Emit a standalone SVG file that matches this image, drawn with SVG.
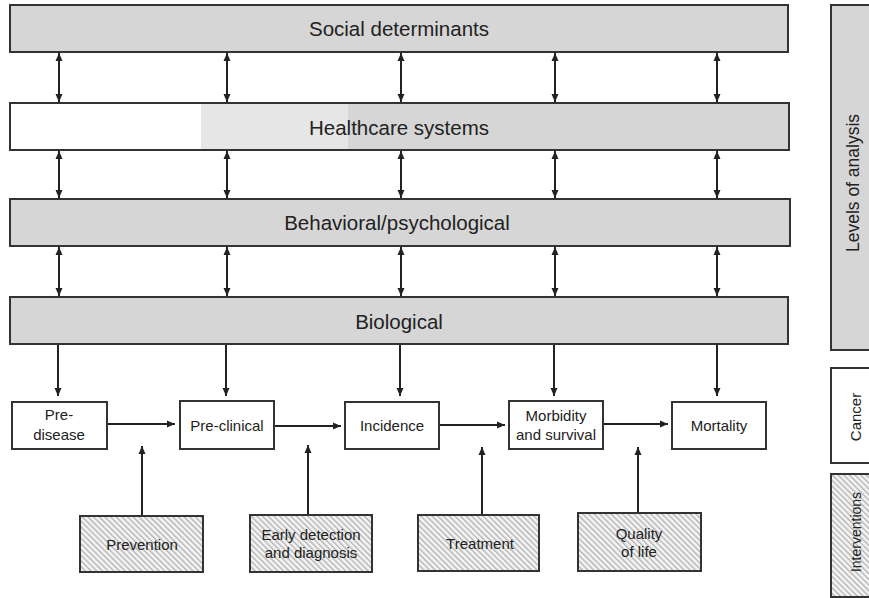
<svg xmlns="http://www.w3.org/2000/svg" width="869" height="598" viewBox="0 0 869 598">
<defs>
<style>
.bar{fill:#d6d6d6;stroke:#333;stroke-width:2}
.box{fill:#fff;stroke:#333;stroke-width:2}
.hatch{fill:url(#hp);stroke:#333;stroke-width:2}
.t{font-family:"Liberation Sans",Arial,sans-serif;fill:#222;text-anchor:middle}
.big{font-size:20.5px}
.sm{font-size:15px}
.conn line{stroke:#222;stroke-width:2;fill:none}
</style>
<pattern id="hp" width="4" height="4" patternUnits="userSpaceOnUse" patternTransform="rotate(-45)">
<rect width="4" height="4" fill="#f4f4f4"/>
<rect width="1.3" height="4" fill="#b0b0b0"/>
</pattern>
<marker id="ah" viewBox="0 0 8 8" markerUnits="userSpaceOnUse" markerWidth="8" markerHeight="8" refX="8" refY="4" orient="auto-start-reverse">
<path d="M0,0.5 L8,4 L0,7.5 z" fill="#222"/>
</marker>
</defs>
<rect width="869" height="598" fill="#fff"/>

<g id="social"><rect class="bar" x="10" y="5" width="778" height="47"/><text class="t big" x="399" y="36">Social determinants</text></g>
<g id="healthcare">
<rect x="10" y="103" width="191" height="47" fill="#fff"/>
<rect x="201" y="103" width="147" height="47" fill="#e6e6e6"/>
<rect x="348" y="103" width="441" height="47" fill="#d6d6d6"/>
<rect x="10" y="103" width="779" height="47" fill="none" stroke="#333" stroke-width="2"/>
<text class="t big" x="399" y="135">Healthcare systems</text></g>
<g id="behavioral"><rect class="bar" x="10" y="199" width="780" height="47"/><text class="t big" x="397" y="230">Behavioral/psychological</text></g>
<g id="biological"><rect class="bar" x="10" y="297" width="778" height="47"/><text class="t big" x="399" y="329">Biological</text></g>

<g id="predisease"><rect class="box" x="12" y="402" width="95" height="47"/><text class="t sm" x="59" y="420">Pre-</text><text class="t sm" x="59" y="440">disease</text></g>
<g id="preclinical"><rect class="box" x="180" y="401" width="94" height="48"/><text class="t sm" x="227" y="431">Pre-clinical</text></g>
<g id="incidence"><rect class="box" x="345" y="402" width="94" height="47"/><text class="t sm" x="392" y="431">Incidence</text></g>
<g id="morbidity"><rect class="box" x="509" y="401" width="94" height="48"/><text class="t sm" x="556" y="421">Morbidity</text><text class="t sm" x="556" y="440">and survival</text></g>
<g id="mortality"><rect class="box" x="672" y="402" width="94" height="47"/><text class="t sm" x="719" y="431">Mortality</text></g>

<g id="prevention"><rect class="hatch" x="80" y="516" width="123" height="56"/><text class="t sm" x="142" y="550">Prevention</text></g>
<g id="early"><rect class="hatch" x="250" y="515" width="122" height="57"/><text class="t sm" x="311" y="540">Early detection</text><text class="t sm" x="311" y="558">and diagnosis</text></g>
<g id="treatment"><rect class="hatch" x="418" y="515" width="121" height="56"/><text class="t sm" x="480" y="549">Treatment</text></g>
<g id="quality"><rect class="hatch" x="578" y="513" width="123" height="58"/><text class="t sm" x="639" y="539">Quality</text><text class="t sm" x="639" y="557">of life</text></g>

<g id="levels"><rect class="bar" x="831" y="5" width="50" height="345"/><text class="t" style="font-size:17.5px" transform="translate(859,183) rotate(-90)">Levels of analysis</text></g>
<g id="cancer"><rect class="box" x="831" y="368" width="50" height="95"/><text class="t sm" transform="translate(861,417) rotate(-90)">Cancer</text></g>
<g id="interventions"><rect class="hatch" x="831" y="474" width="50" height="123"/><text class="t" style="font-size:14px" transform="translate(861,532) rotate(-90)">Interventions</text></g>

<g class="conn" id="connectors">
<line x1="59" y1="53" x2="59" y2="102" marker-start="url(#ah)" marker-end="url(#ah)"/>
<line x1="227" y1="53" x2="227" y2="102" marker-start="url(#ah)" marker-end="url(#ah)"/>
<line x1="401" y1="53" x2="401" y2="102" marker-start="url(#ah)" marker-end="url(#ah)"/>
<line x1="555" y1="53" x2="555" y2="102" marker-start="url(#ah)" marker-end="url(#ah)"/>
<line x1="717" y1="53" x2="717" y2="102" marker-start="url(#ah)" marker-end="url(#ah)"/>
<line x1="59" y1="151" x2="59" y2="198" marker-start="url(#ah)" marker-end="url(#ah)"/>
<line x1="227" y1="151" x2="227" y2="198" marker-start="url(#ah)" marker-end="url(#ah)"/>
<line x1="401" y1="151" x2="401" y2="198" marker-start="url(#ah)" marker-end="url(#ah)"/>
<line x1="555" y1="151" x2="555" y2="198" marker-start="url(#ah)" marker-end="url(#ah)"/>
<line x1="717" y1="151" x2="717" y2="198" marker-start="url(#ah)" marker-end="url(#ah)"/>
<line x1="59" y1="247" x2="59" y2="296" marker-start="url(#ah)" marker-end="url(#ah)"/>
<line x1="227" y1="247" x2="227" y2="296" marker-start="url(#ah)" marker-end="url(#ah)"/>
<line x1="401" y1="247" x2="401" y2="296" marker-start="url(#ah)" marker-end="url(#ah)"/>
<line x1="555" y1="247" x2="555" y2="296" marker-start="url(#ah)" marker-end="url(#ah)"/>
<line x1="717" y1="247" x2="717" y2="296" marker-start="url(#ah)" marker-end="url(#ah)"/>
<line x1="58" y1="345" x2="58" y2="396" marker-end="url(#ah)"/>
<line x1="226" y1="345" x2="226" y2="396" marker-end="url(#ah)"/>
<line x1="400" y1="345" x2="400" y2="396" marker-end="url(#ah)"/>
<line x1="554" y1="345" x2="554" y2="396" marker-end="url(#ah)"/>
<line x1="717" y1="345" x2="717" y2="396" marker-end="url(#ah)"/>
<line x1="108" y1="424" x2="175" y2="424" marker-end="url(#ah)"/>
<line x1="275" y1="426" x2="341" y2="426" marker-end="url(#ah)"/>
<line x1="440" y1="425" x2="505" y2="425" marker-end="url(#ah)"/>
<line x1="604" y1="424" x2="668" y2="424" marker-end="url(#ah)"/>
<line x1="142" y1="515" x2="142" y2="446" marker-end="url(#ah)"/>
<line x1="308" y1="514" x2="308" y2="445" marker-end="url(#ah)"/>
<line x1="482" y1="514" x2="482" y2="447" marker-end="url(#ah)"/>
<line x1="638" y1="512" x2="638" y2="447" marker-end="url(#ah)"/>
</g>
</svg>
